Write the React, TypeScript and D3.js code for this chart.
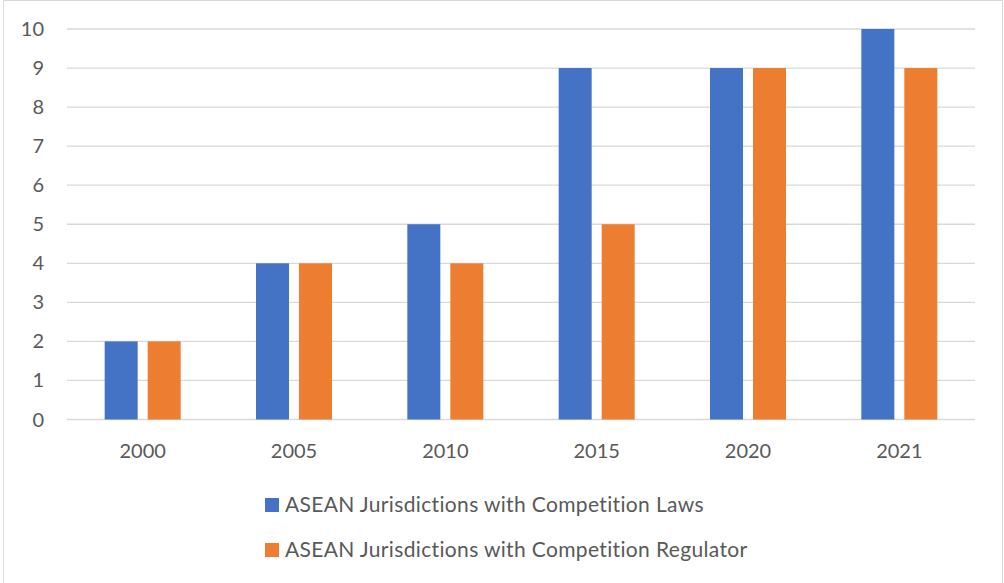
import React from "react";
import * as d3 from "d3";

const categories = ["2000", "2005", "2010", "2015", "2020", "2021"];
const lawsValues = [2, 4, 5, 9, 9, 10];
const regulatorValues = [2, 4, 4, 5, 9, 9];
const yTicks = [0, 1, 2, 3, 4, 5, 6, 7, 8, 9, 10];
const seriesNames = [
  "ASEAN Jurisdictions with Competition Laws",
  "ASEAN Jurisdictions with Competition Regulator",
];
const colors = ["#4472C4", "#ED7D31"];

export default function App() {
  const W = 1004, H = 583;
  const left = 67, right = 975, top = 29, bottom = 419.5;
  const x = d3.scaleBand<string>().domain(categories).range([left, right]).paddingInner(0).paddingOuter(0);
  const y = d3.scaleLinear().domain([0, 10]).range([bottom, top]);
  const barW = 33, gap = 10;
  const font = "Lato, 'Open Sans', sans-serif";
  const series = [lawsValues, regulatorValues];
  return (
    <svg width={W} height={H} style={{ position: "absolute", left: 0, top: 0, background: "#fff" }}>
      <rect x={3.5} y={0.5} width={999} height={590} fill="#fff" stroke="#D9D9D9" strokeWidth={1} />
      {yTicks.map((t) => (
        <g key={t}>
          <line x1={left} x2={right} y1={y(t)} y2={y(t)} stroke="#D9D9D9" strokeWidth={1.3} />
          <text x={44} y={y(t)} dy="0.35em" textAnchor="end" fontFamily={font} fontSize={20} fill="#595959">{t}</text>
        </g>
      ))}
      {series.map((vals, si) =>
        categories.map((c, i) => {
          const cx = (x(c) as number) + x.bandwidth() / 2;
          const bx = si === 0 ? cx - gap / 2 - barW : cx + gap / 2;
          return (
            <rect key={si + "-" + c} x={bx} y={y(vals[i])} width={barW} height={y(0) - y(vals[i])} fill={colors[si]} />
          );
        })
      )}
      {categories.map((c) => (
        <text key={c} x={(x(c) as number) + x.bandwidth() / 2} y={458} textAnchor="middle" fontFamily={font} fontSize={20} fill="#595959">{c}</text>
      ))}
      {seriesNames.map((n, i) => (
        <g key={n} transform={`translate(265, ${498 + i * 45})`}>
          <rect x={0} y={0} width={14} height={14} fill={colors[i]} />
          <text x={20} y={14} fontFamily={font} fontSize={21} letterSpacing={0.35} fill="#595959">{n}</text>
        </g>
      ))}
    </svg>
  );
}
